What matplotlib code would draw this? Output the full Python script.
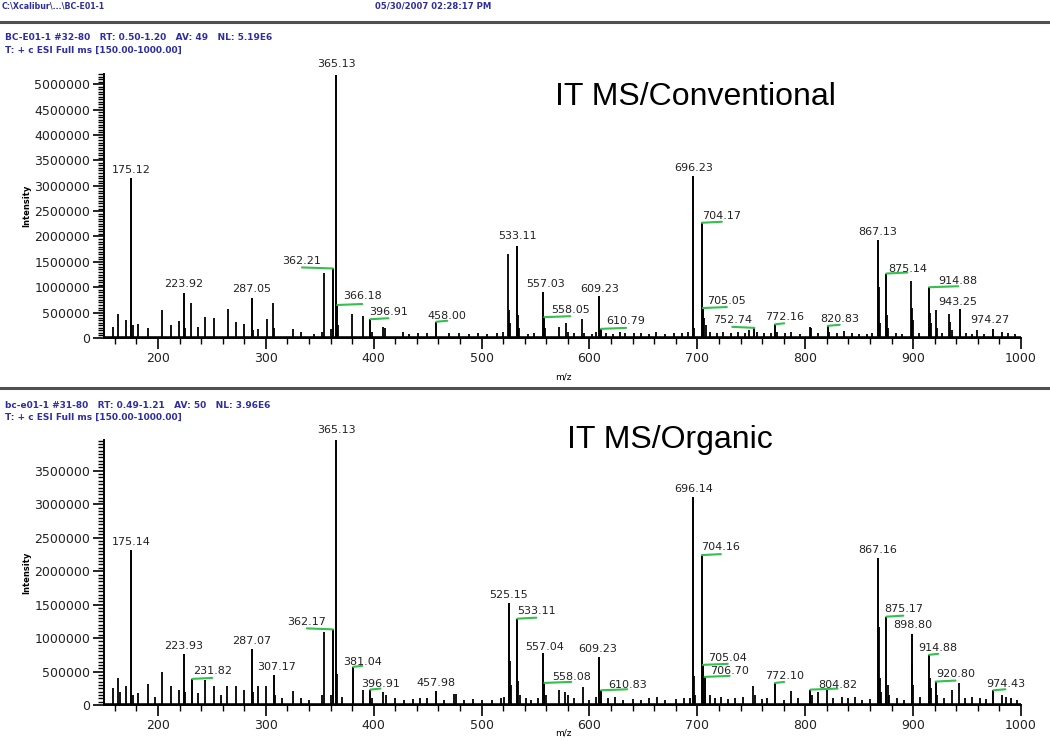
import matplotlib.pyplot as plt
from matplotlib.ticker import MultipleLocator, FuncFormatter
from matplotlib.lines import Line2D

# ---- data: labelled peaks (m/z, intensity) ----
conv_lab_mz = [175.12, 223.92, 287.05, 362.21, 365.13, 366.18, 396.91, 458.00,
               533.11, 557.03, 558.05, 609.23, 610.79, 696.23, 704.17, 705.05,
               752.74, 772.16, 820.83, 867.13, 875.14, 914.88, 943.25, 974.27]
conv_lab_int = [3.15e6, 0.89e6, 0.78e6, 1.37e6, 5.19e6, 0.65e6, 0.37e6, 0.32e6,
                1.82e6, 0.91e6, 0.41e6, 0.83e6, 0.18e6, 3.19e6, 2.27e6, 0.59e6,
                0.20e6, 0.27e6, 0.24e6, 1.93e6, 1.27e6, 1.00e6, 0.57e6, 0.17e6]

org_lab_mz = [175.14, 223.93, 231.82, 287.07, 307.17, 362.17, 365.13, 381.04,
              396.91, 457.98, 525.15, 533.11, 557.04, 558.08, 609.23, 610.83,
              696.14, 704.16, 705.04, 706.70, 772.10, 804.82, 867.16, 875.17,
              898.80, 914.88, 920.80, 974.43]
org_lab_int = [2.31e6, 0.76e6, 0.39e6, 0.83e6, 0.45e6, 1.13e6, 3.96e6, 0.57e6,
               0.23e6, 0.21e6, 1.53e6, 1.29e6, 0.78e6, 0.33e6, 0.71e6, 0.22e6,
               3.11e6, 2.24e6, 0.60e6, 0.42e6, 0.33e6, 0.23e6, 2.19e6, 1.32e6,
               1.06e6, 0.75e6, 0.35e6, 0.22e6]

# ---- data: unlabelled peaks ----
conv_mz = [158, 163.1, 170.3, 177.0, 181.8, 191.0, 203.5, 211.8, 219.5, 225.0,
           231.0, 237.4, 243.6, 252.3, 264.7, 272.0, 279.8, 288.5, 293, 300.8,
           306.4, 308, 325.0, 333, 345, 352, 354.3, 360, 367, 380.0,
           390.4, 398, 408.7, 410.5, 427, 433, 441, 449, 470, 479,
           488, 497, 505, 514, 520, 524.3, 525.2, 526.2, 534.1, 535.1,
           543, 549, 559, 572, 578.6, 580, 586, 593.4, 595, 602,
           606, 615, 622, 628, 633, 641, 648, 655, 662, 670,
           678, 686, 691, 697.2, 706, 708, 712, 718, 724, 731,
           738, 744, 748, 755, 762, 768, 774, 781, 787, 795,
           804, 805.5, 812, 822, 829, 836, 843, 850, 857, 862,
           868.1, 869, 876.1, 877, 884, 890, 898.0, 899.0, 900, 905,
           915.9, 917, 921.0, 922, 927, 933.4, 934.4, 936, 949, 955,
           958.8, 966, 982.5, 988, 994]
conv_int = [0.22e6, 0.47e6, 0.35e6, 0.25e6, 0.28e6, 0.20e6, 0.55e6, 0.26e6, 0.34e6, 0.20e6,
            0.68e6, 0.22e6, 0.42e6, 0.39e6, 0.58e6, 0.31e6, 0.28e6, 0.15e6, 0.18e6, 0.37e6,
            0.68e6, 0.20e6, 0.18e6, 0.12e6, 0.08e6, 0.12e6, 1.29e6, 0.18e6, 0.25e6, 0.47e6,
            0.43e6, 0.12e6, 0.22e6, 0.20e6, 0.12e6, 0.08e6, 0.10e6, 0.09e6, 0.10e6, 0.09e6,
            0.08e6, 0.09e6, 0.08e6, 0.10e6, 0.12e6, 1.65e6, 0.55e6, 0.30e6, 0.45e6, 0.20e6,
            0.08e6, 0.10e6, 0.20e6, 0.22e6, 0.30e6, 0.12e6, 0.10e6, 0.37e6, 0.10e6, 0.08e6,
            0.12e6, 0.10e6, 0.08e6, 0.12e6, 0.10e6, 0.09e6, 0.10e6, 0.08e6, 0.11e6, 0.08e6,
            0.09e6, 0.10e6, 0.12e6, 0.20e6, 0.40e6, 0.25e6, 0.12e6, 0.10e6, 0.12e6, 0.09e6,
            0.12e6, 0.10e6, 0.15e6, 0.12e6, 0.10e6, 0.09e6, 0.12e6, 0.10e6, 0.12e6, 0.08e6,
            0.22e6, 0.20e6, 0.10e6, 0.12e6, 0.10e6, 0.14e6, 0.09e6, 0.08e6, 0.08e6, 0.09e6,
            1.00e6, 0.30e6, 0.45e6, 0.20e6, 0.10e6, 0.08e6, 1.13e6, 0.60e6, 0.35e6, 0.10e6,
            0.50e6, 0.30e6, 0.55e6, 0.20e6, 0.10e6, 0.47e6, 0.32e6, 0.15e6, 0.10e6, 0.08e6,
            0.15e6, 0.08e6, 0.12e6, 0.10e6, 0.08e6]

org_mz = [158, 163.0, 165, 170.4, 177, 181.8, 191.0, 197, 203.5, 212.0,
          219.5, 224.9, 237.4, 243.6, 252.3, 258, 263.7, 272.4, 279.8, 288.3,
          292.5, 300.0, 308.2, 315, 325.0, 333, 340, 352, 354.3, 360,
          366.2, 371, 390.4, 398, 409.0, 411, 420, 428, 436, 443,
          449, 465, 474.0, 476.0, 484, 492, 500, 510, 518, 521,
          526.2, 527.2, 534.2, 535.2, 541, 546, 552, 559.5, 572, 577.4,
          580, 586, 593.8, 600, 606, 617, 624, 631, 640, 648,
          655, 662.4, 670, 680, 688, 693, 697.2, 698, 712, 716,
          722, 728, 735, 742, 751.4, 753, 760, 765, 780, 786.6,
          793, 804.0, 806, 811.6, 820.6, 826, 834, 840, 846, 853,
          860, 868.1, 869, 870, 876.6, 878, 885, 892, 899.2, 900.2,
          906, 915.9, 917, 922, 929, 935.7, 942.3, 948, 955, 962,
          968, 982.5, 986, 991, 996]
org_int = [0.25e6, 0.41e6, 0.20e6, 0.29e6, 0.15e6, 0.18e6, 0.31e6, 0.12e6, 0.50e6, 0.28e6,
           0.22e6, 0.20e6, 0.18e6, 0.37e6, 0.29e6, 0.15e6, 0.29e6, 0.28e6, 0.22e6, 0.20e6,
           0.28e6, 0.28e6, 0.15e6, 0.10e6, 0.21e6, 0.10e6, 0.08e6, 0.15e6, 1.09e6, 0.15e6,
           0.47e6, 0.12e6, 0.22e6, 0.10e6, 0.20e6, 0.15e6, 0.10e6, 0.08e6, 0.09e6, 0.10e6,
           0.10e6, 0.08e6, 0.17e6, 0.17e6, 0.08e6, 0.09e6, 0.07e6, 0.08e6, 0.10e6, 0.12e6,
           0.66e6, 0.30e6, 0.36e6, 0.15e6, 0.10e6, 0.08e6, 0.10e6, 0.15e6, 0.22e6, 0.20e6,
           0.15e6, 0.10e6, 0.27e6, 0.08e6, 0.12e6, 0.10e6, 0.12e6, 0.08e6, 0.09e6, 0.08e6,
           0.10e6, 0.12e6, 0.08e6, 0.09e6, 0.10e6, 0.10e6, 0.43e6, 0.15e6, 0.15e6, 0.10e6,
           0.12e6, 0.09e6, 0.10e6, 0.12e6, 0.28e6, 0.15e6, 0.09e6, 0.10e6, 0.08e6, 0.21e6,
           0.10e6, 0.20e6, 0.15e6, 0.20e6, 0.22e6, 0.10e6, 0.12e6, 0.10e6, 0.12e6, 0.08e6,
           0.09e6, 1.16e6, 0.40e6, 0.20e6, 0.30e6, 0.15e6, 0.10e6, 0.08e6, 0.60e6, 0.30e6,
           0.12e6, 0.40e6, 0.25e6, 0.15e6, 0.10e6, 0.23e6, 0.33e6, 0.10e6, 0.12e6, 0.10e6,
           0.09e6, 0.15e6, 0.12e6, 0.10e6, 0.08e6]

# ---- layout: label offsets from peak top, in pixels ----
conv_dx = [0, 0, 0, -31, 0, 25, 18, 11, 0, 2, 26, 0, 25, 0, 20, 24,
           -22, 9, 12, 0, 21, 29, -2, -3]
conv_dy = [8, 9, 9, 7, 11, 9, 7, 6, 10, 8, 7, 7, 8, 8, 7, 7,
           8, 7, 7, 8, 5, 6, 7, 9]
org_dx = [0, 0, 20, 0, 3, -26, 0, 9, 10, 0, 0, 19, 2, 27, -2, 26,
          0, 19, 25, 25, 9, 27, 0, 17, 1, 9, 20, 12]
org_dy = [8, 8, 8, 8, 8, 7, 10, 5, 6, 8, 8, 8, 6, 6, 8, 5,
          8, 8, 7, 6, 7, 5, 8, 8, 9, 7, 8, 6]

blue = '#2e2e9e'
green = '#33c04f'

fig = plt.figure(figsize=(10.5, 7.41), dpi=100)

def fx(x):
    return x / 1050

def fy(y):
    return 1 - y / 741

# header
fig.text(fx(2), fy(6), 'C:\\Xcalibur\\...\\BC-E01-1', color=blue, fontsize=5.7,
         fontweight='bold', va='center', ha='left')
fig.text(fx(375), fy(6), '05/30/2007 02:28:17 PM', color=blue, fontsize=6.1,
         fontweight='bold', va='center', ha='left')
for yy in (22, 388):
    fig.add_artist(Line2D([0, 1], [fy(yy), fy(yy)], color='#505050', lw=2.2))


def panel(ax_rect, lab_mz, lab_int, mz, inten, dx, dy, ytop, head1, title, title_x, title_y,
          head_y, xlab_y):
    ax = fig.add_axes(ax_rect)
    ax.vlines(mz, 0, inten, color='black', lw=1.3)
    ax.vlines(lab_mz, 0, lab_int, color='black', lw=1.4)
    ax.axhline(0, color='black', lw=2.6, zorder=1)
    for m, i, ox, oy in zip(lab_mz, lab_int, dx, dy):
        if abs(ox) > 4:
            ax.annotate('', xy=(m, i), xytext=(ox, 1), textcoords='offset pixels',
                        arrowprops=dict(arrowstyle='-', color=green, lw=1.5,
                                        shrinkA=0, shrinkB=0))
        ax.annotate(f'{m:.2f}', xy=(m, i), xytext=(ox, oy), textcoords='offset pixels',
                    ha='center', va='center', fontsize=8, color='#222222')
    ax.set_xlim(150, 1000)
    ax.set_ylim(0, ytop)
    ax.spines['top'].set_visible(False)
    ax.spines['right'].set_visible(False)
    ax.spines['left'].set_linewidth(1.4)
    ax.spines['bottom'].set_linewidth(1.4)
    ax.xaxis.set_major_locator(MultipleLocator(100))
    ax.xaxis.set_minor_locator(MultipleLocator(20))
    ax.yaxis.set_major_locator(MultipleLocator(500000))
    ax.yaxis.set_minor_locator(MultipleLocator(50000))
    ax.yaxis.set_major_formatter(FuncFormatter(lambda v, p: f'{int(round(v))}'))
    ax.set_xticks([200, 300, 400, 500, 600, 700, 800, 900, 1000])
    ax.tick_params(axis='both', which='major', length=8, width=1.2, labelsize=9,
                   labelcolor='#222222', pad=2)
    ax.tick_params(axis='both', which='minor', length=4, width=1.0)
    ax.set_ylabel('Intensity', fontsize=6, fontweight='bold', labelpad=2)
    fig.text(fx(563), fy(xlab_y), 'm/z', fontsize=6.5, ha='center', va='center')
    fig.text(fx(5), fy(head_y), head1, color=blue, fontsize=6.5, fontweight='bold',
             va='center', ha='left')
    fig.text(fx(5), fy(head_y + 12), 'T: + c ESI Full ms [150.00-1000.00]', color=blue,
             fontsize=6.5, fontweight='bold', va='center', ha='left')
    fig.text(fx(title_x), fy(title_y), title, fontsize=23, family='Liberation Sans',
             va='center', ha='left')
    return ax


ax1 = panel([fx(104), fy(338), 917 / 1050, 264 / 741], conv_lab_mz, conv_lab_int,
            conv_mz, conv_int, conv_dx, conv_dy, 5.2e6,
            'BC-E01-1 #32-80   RT: 0.50-1.20   AV: 49   NL: 5.19E6',
            'IT MS/Conventional', 555, 97, 38, 377)
ax2 = panel([fx(104), fy(705), 917 / 1050, 265 / 741], org_lab_mz, org_lab_int,
            org_mz, org_int, org_dx, org_dy, 3.96e6,
            'bc-e01-1 #31-80   RT: 0.49-1.21   AV: 50   NL: 3.96E6',
            'IT MS/Organic', 567, 440, 405, 733)

fig.savefig('out.png', dpi=100)
